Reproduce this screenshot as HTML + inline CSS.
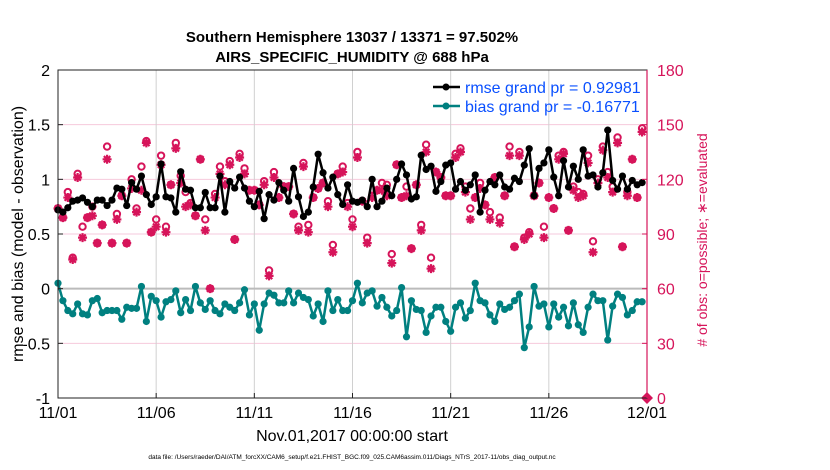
<!DOCTYPE html>
<html><head><meta charset="utf-8">
<style>
body{margin:0;background:#fff;}
svg{display:block;font-family:"Liberation Sans",Arial,sans-serif;}
</style></head>
<body>
<svg id="chart" width="830" height="470" viewBox="0 0 830 470">
<rect x="0" y="0" width="830" height="470" fill="#fff"/>
<g id="grid"></g>
<g id="series"></g>
<g id="axes"></g>
<text x="352" y="42" text-anchor="middle" font-size="15" font-weight="bold">Southern Hemisphere 13037 / 13371 = 97.502%</text>
<text x="352" y="62" text-anchor="middle" font-size="15" font-weight="bold">AIRS_SPECIFIC_HUMIDITY @ 688 hPa</text>
<text x="352" y="441" text-anchor="middle" font-size="16">Nov.01,2017 00:00:00 start</text>
<text transform="translate(23,234) rotate(-90)" text-anchor="middle" font-size="16">rmse and bias (model - observation)</text>
<text transform="translate(707,240) rotate(-90)" text-anchor="middle" font-size="14" fill="#d6145a"># of obs: o=possible; ∗=evaluated</text>
<text x="352" y="459" text-anchor="middle" font-size="6.5">data file: /Users/raeder/DAI/ATM_forcXX/CAM6_setup/f.e21.FHIST_BGC.f09_025.CAM6assim.011/Diags_NTrS_2017-11/obs_diag_output.nc</text>
<g>
<line x1="433" y1="87" x2="460" y2="87" stroke="#000" stroke-width="2.5"/>
<circle cx="446" cy="87" r="3.5" fill="#000"/>
<text x="465" y="93" font-size="16" fill="#0a50ff">rmse grand pr = 0.92981</text>
<line x1="433" y1="106" x2="460" y2="106" stroke="#008080" stroke-width="2.5"/>
<circle cx="446" cy="106" r="3.5" fill="#008080"/>
<text x="465" y="112" font-size="16" fill="#0a50ff">bias grand pr = -0.16771</text>
</g>
</svg>
<script>
const rmseValues=[0.72,0.70,0.74,0.80,0.81,0.83,0.79,0.75,0.81,0.81,0.76,0.81,0.92,0.91,0.76,0.97,0.91,1.03,0.86,0.77,0.84,1.14,0.84,0.83,0.70,1.07,0.91,0.90,0.74,0.74,0.88,0.74,0.74,1.03,0.70,0.98,0.92,1.02,0.92,
0.80,0.75,0.89,0.64,0.86,0.81,0.97,0.90,0.80,1.10,0.84,0.66,0.70,0.93,1.23,1.06,0.92,1.02,0.86,0.77,0.95,0.80,0.79,0.81,0.75,1.0,0.75,0.80,0.92,0.85,1.0,1.14,1.04,0.82,0.84,1.22,1.09,1.12,0.89,
0.98,1.13,1.15,0.91,0.98,0.90,0.95,1.04,0.70,0.90,0.98,0.95,1.04,0.93,0.91,1.01,0.98,1.13,1.28,0.85,1.10,1.15,1.27,1.02,0.85,1.17,0.93,1.12,1.0,1.27,1.03,1.04,0.93,1.06,1.45,0.99,0.91,1.03,0.91,0.99,0.95,0.97];
const biasValues=[0.05,-0.11,-0.20,-0.23,-0.14,-0.23,-0.24,-0.11,-0.09,-0.22,-0.20,-0.20,-0.20,-0.28,-0.17,-0.18,-0.18,0.02,-0.30,-0.07,-0.11,-0.26,-0.12,-0.10,-0.02,-0.22,-0.10,-0.20,0.02,-0.13,-0.19,-0.11,-0.20,-0.23,-0.14,-0.17,-0.20,-0.13,-0.01,
-0.24,-0.14,-0.38,-0.14,-0.04,-0.06,-0.13,-0.13,-0.02,-0.13,-0.04,-0.08,-0.10,-0.25,-0.14,-0.30,-0.02,-0.20,-0.10,-0.20,-0.20,-0.11,0.05,-0.13,-0.04,-0.02,-0.16,-0.08,-0.17,-0.25,-0.20,0.01,-0.44,-0.11,-0.19,-0.20,-0.40,-0.25,-0.17,
-0.17,-0.30,-0.39,-0.17,-0.13,-0.27,-0.20,0.05,-0.11,-0.13,-0.24,-0.30,-0.14,-0.19,-0.17,-0.11,-0.05,-0.54,-0.35,0.02,-0.16,-0.14,-0.35,-0.14,-0.26,-0.17,-0.34,-0.13,-0.33,-0.40,-0.17,-0.05,-0.11,-0.11,-0.47,-0.16,-0.05,-0.08,-0.24,-0.20,-0.12,-0.12];
const evaluatedCounts=[104,99,110,76,121,88,99,100,85,95,131,85,98,111,85,115,102,114,140,91,94,128,91,117,137,118,105,106,100,131,92,60,110,123,117,128,87,132,123,114,
114,106,117,67,121,110,116,116,101,92,127,91,110,115,118,105,80,123,124,105,94,132,108,85,110,114,114,111,74,128,110,111,82,117,92,135,71,124,121,111,
111,132,135,113,98,110,115,106,98,121,96,111,133,83,133,87,90,111,118,88,110,104,131,134,92,114,110,111,129,80,118,136,121,113,140,83,111,131,110,146];
const possibleCounts=[104,99,113,77,123,94,99,105,85,95,138,85,101,111,85,120,104,127,141,91,98,133,94,117,140,122,113,107,100,131,98,60,112,127,119,130,87,134,126,114,
114,106,119,70,124,110,116,116,101,94,129,95,110,115,118,108,84,123,127,107,98,135,108,88,111,114,118,117,79,128,110,116,82,117,95,139,77,124,121,111,
111,134,137,116,104,110,118,106,102,121,99,111,138,83,135,88,91,111,118,94,110,104,133,135,92,116,113,112,133,86,120,138,124,116,143,83,113,131,110,148];
const leftTicks=[2,1.5,1,0.5,0,-0.5,-1];
const leftTickLabels=["2","1.5","1","0.5","0","-0.5","-1"];
const rightTicks=[180,150,120,90,60,30,0];
const xTickDays=[0,5,10,15,20,25,30];
const xTickLabels=["11/01","11/06","11/11","11/16","11/21","11/26","12/01"];

const NS="http://www.w3.org/2000/svg";
const X0=58,X1=647,Y0=70,Y1=398;
function xDay(d){return X0+(d/30)*(X1-X0);}
function xIdx(i){return xDay(i/4);}
function yL(v){return Y1-(v+1)/3*(Y1-Y0);}
function yR(c){return Y1-c/180*(Y1-Y0);}
function mk(tag,attrs,parent){const e=document.createElementNS(NS,tag);for(const k in attrs)e.setAttribute(k,attrs[k]);parent.appendChild(e);return e;}
const grid=document.getElementById('grid'),series=document.getElementById('series'),axes=document.getElementById('axes');

leftTicks.forEach((v,i)=>{
  if(v!==0&&v!==2&&v!==-1){const g=mk('line',{x1:X0,x2:X1,y1:yL(v),y2:yL(v),stroke:'#f6c9dc','stroke-width':1},grid);
  
  }
  const t=mk('text',{x:X0-8,y:yL(v)+6,'text-anchor':'end','font-size':16},axes);t.textContent=leftTickLabels[i];
  
  
  mk('line',{x1:X0,x2:X0+5,y1:yL(v),y2:yL(v),stroke:'#222'},axes);
});
rightTicks.forEach(c=>{
  const t=mk('text',{x:X1+10,y:yR(c)+6,'font-size':16,fill:'#d6145a'},axes);t.textContent=String(c);
  
  
  mk('line',{x1:X1-5,x2:X1,y1:yR(c),y2:yR(c),stroke:'#d6145a'},axes);
});
xTickDays.forEach((d,i)=>{
  if(i>0&&i<xTickDays.length-1){const g=mk('line',{x1:xDay(d),x2:xDay(d),y1:Y0,y2:Y1,stroke:'#d0d0d0','stroke-width':1},grid);
  
  }
  const t=mk('text',{x:xDay(d),y:Y1+20,'text-anchor':'middle','font-size':16},axes);t.textContent=xTickLabels[i];
  
  
  mk('line',{x1:xDay(d),x2:xDay(d),y1:Y1-5,y2:Y1,stroke:'#222'},axes);
});
const zl=mk('line',{x1:X0,x2:X1,y1:yL(0),y2:yL(0),stroke:'#bbb','stroke-width':2},grid);



function drawLine(vals,color,name){
  const pts=vals.map((v,i)=>xIdx(i).toFixed(1)+','+yL(v).toFixed(1)).join(' ');
  const pl=mk('polyline',{points:pts,fill:'none',stroke:color,'stroke-width':2.5,'stroke-linejoin':'round'},series);
  
  
  vals.forEach((v,i)=>{const c=mk('circle',{cx:xIdx(i),cy:yL(v),r:3.6,fill:color},series);
    
    });
}
possibleCounts.forEach((c,i)=>{const e=mk('circle',{cx:xIdx(i),cy:yR(c),r:3.2,fill:'none',stroke:'#d6145a','stroke-width':2},series);
  
  });
evaluatedCounts.forEach((c,i)=>{
  const cx=xIdx(i),cy=yR(c),r=4.5,d=3.2;
  const e=mk('path',{d:`M${cx-r} ${cy}H${cx+r}M${cx} ${cy-r}V${cy+r}M${cx-d} ${cy-d}L${cx+d} ${cy+d}M${cx-d} ${cy+d}L${cx+d} ${cy-d}`,stroke:'#d6145a','stroke-width':2.2,fill:'none'},series);
  
  });
drawLine(biasValues,'#008080','bias');
drawLine(rmseValues,'#000','rmse');
const dm=mk('path',{d:`M${X1} ${Y1-6} L${X1+6} ${Y1} L${X1} ${Y1+6} L${X1-6} ${Y1} Z`,fill:'#d6145a'},axes);


const box=mk('rect',{x:X0,y:Y0,width:X1-X0,height:Y1-Y0,fill:'none',stroke:'#222','stroke-width':1},axes);


const ra=mk('line',{x1:X1,x2:X1,y1:Y0,y2:Y1,stroke:'#d6145a','stroke-width':1.2},axes);


</script>
</body></html>
